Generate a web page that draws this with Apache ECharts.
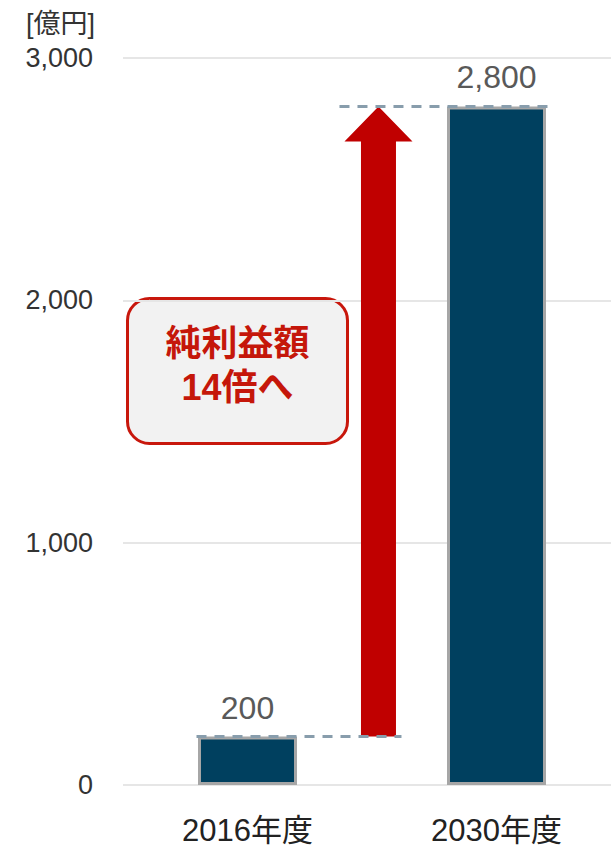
<!DOCTYPE html>
<html><head><meta charset="utf-8">
<script src="https://cdn.jsdelivr.net/npm/echarts@6/dist/echarts.min.js"></script>
<style>html,body{margin:0;padding:0;background:#fff}#c{width:611px;height:847px}</style>
</head><body><div id="c"></div>
<script>
const categories = ['2016年度', '2030年度'];
const profit = [200, 2800];
const yTicks = [0, 1000, 2000, 3000];
const unitLabel = '[億円]';
const calloutLines = ['純利益額', '14倍へ'];

const FONT = '"Liberation Sans", Arial, "Noto Sans CJK JP", sans-serif';
const chart = echarts.init(document.getElementById('c'), null, {renderer: 'svg'});
const fmt = v => v.toLocaleString('en-US');

chart.setOption({
  animation: false,
  title: {text: unitLabel, left: 21, top: 5, textStyle: {fontSize: 27, fontWeight: 'normal', color: '#333', fontFamily: FONT}},
  grid: {left: 123, top: 58, bottom: 62, width: 498, outerBoundsMode: 'none'},
  xAxis: {
    type: 'category', data: categories,
    axisLine: {show: false}, axisTick: {show: false},
    axisLabel: {fontSize: 31, color: '#222', margin: 30, fontFamily: FONT}
  },
  yAxis: {
    type: 'value', min: yTicks[0], max: yTicks[yTicks.length - 1], interval: 1000,
    axisLine: {show: false}, axisTick: {show: false},
    splitLine: {lineStyle: {color: '#e6e6e6', width: 2}},
    axisLabel: {fontSize: 27, color: '#333', margin: 30, fontFamily: FONT, formatter: fmt}
  },
  series: [
    {
      type: 'bar', data: profit, barWidth: 99,
      itemStyle: {color: '#00405f', borderColor: '#a6a6a6', borderWidth: 3},
      label: {show: true, position: 'top', distance: 13, fontSize: 32, color: '#595959', fontFamily: FONT, formatter: p => fmt(p.value)}
    },
    {
      type: 'custom', z: 5,
      data: [[0, profit[0], profit[1]]],
      renderItem: function (params, api) {
        const a = api.coord([0, api.value(1)]);
        const b = api.coord([1, api.value(2)]);
        const half = 51;
        const x = a[0] + (b[0] - a[0]) * 0.526;
        const sw = 17.5, hw = 34, hh = 35;
        const dash = {stroke: '#889dac', lineWidth: 3, lineDash: [10, 8]};
        return {
          type: 'group', children: [
            {type: 'polygon', shape: {points: [
              [x - sw, a[1]], [x + sw, a[1]], [x + sw, b[1] + hh], [x + hw, b[1] + hh],
              [x, b[1]], [x - hw, b[1] + hh], [x - sw, b[1] + hh]
            ]}, style: {fill: '#c00000'}},
            {type: 'line', shape: {x1: a[0] - half, y1: a[1], x2: x + 23, y2: a[1]}, style: dash},
            {type: 'line', shape: {x1: x - 39, y1: b[1], x2: b[0] + half, y2: b[1]}, style: dash}
          ]
        };
      }
    }
  ],
  graphic: [{
    type: 'group', left: 126, top: 297, z: 10,
    children: [
      {type: 'rect', shape: {x: 0, y: 0, width: 220, height: 145, r: 22}, style: {fill: '#f2f2f2', stroke: '#c8170c', lineWidth: 3}},
      {type: 'text', x: 110, y: 45, style: {text: calloutLines[0], fontSize: 36, fontWeight: 'bold', fontFamily: '"Liberation Sans", "Noto Sans CJK JP", sans-serif', fill: '#c5170a', align: 'center', verticalAlign: 'middle'}},
      {type: 'text', x: 110, y: 89, style: {text: calloutLines[1], fontSize: 36, fontWeight: 'bold', fontFamily: '"Liberation Sans", "Noto Sans CJK JP", sans-serif', fill: '#c5170a', align: 'center', verticalAlign: 'middle'}}
    ]
  }]
});
</script></body></html>
